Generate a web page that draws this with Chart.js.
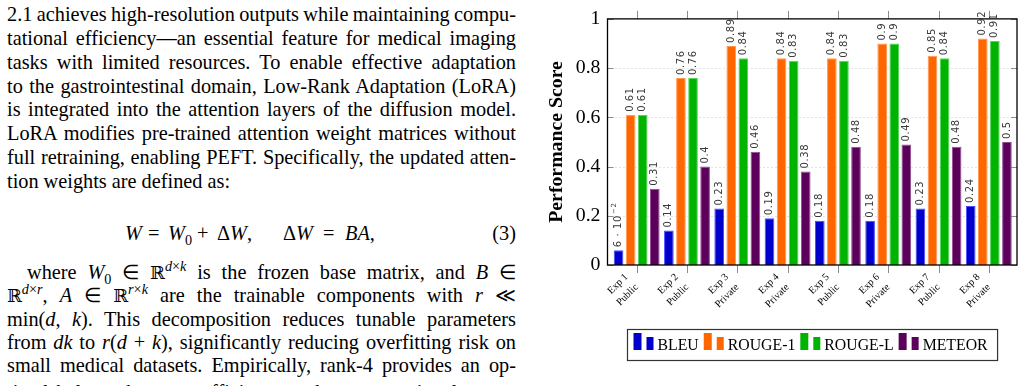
<!DOCTYPE html>
<html>
<head>
<meta charset="utf-8">
<script src="https://cdn.jsdelivr.net/npm/chart.js@4.4.0/dist/chart.umd.min.js"></script>
<style>
html, body { margin: 0; padding: 0; background: #fff; width: 1025px; height: 386px; overflow: hidden; }
#text { position: absolute; left: 7px; top: 0; width: 509px; height: 386px; overflow: hidden;
        font-family: 'Liberation Serif', 'Times New Roman', serif; font-size: 20.3px; color: #000; }
.ln { position: absolute; left: 0; width: 509px; height: 23.3px; line-height: 23.3px; word-spacing: -2px;
      text-align: justify; text-align-last: justify; white-space: nowrap; }
.ln.last { text-align: left; text-align-last: left; word-spacing: 0; }
.eq { position: absolute; top: 221.5px; height: 23.3px; line-height: 23.3px; white-space: nowrap; }
sub, sup { font-size: 0.7em; line-height: 0; }
.bb { font-family: 'DejaVu Serif', serif; font-size: 0.88em; }
#chartBox { position: absolute; left: 530px; top: 0; width: 495px; height: 386px; }
</style>
</head>
<body>

<div id="text">
  <div class="ln" style="top:3.2px">2.1 achieves high-resolution outputs while maintaining compu-</div>
  <div class="ln" style="top:27px">tational efficiency—an essential feature for medical imaging</div>
  <div class="ln" style="top:50.8px">tasks with limited resources. To enable effective adaptation</div>
  <div class="ln" style="top:74.6px">to the gastrointestinal domain, Low-Rank Adaptation (LoRA)</div>
  <div class="ln" style="top:98.4px">is integrated into the attention layers of the diffusion model.</div>
  <div class="ln" style="top:122.2px">LoRA modifies pre-trained attention weight matrices without</div>
  <div class="ln" style="top:146px">full retraining, enabling PEFT. Specifically, the updated atten-</div>
  <div class="ln last" style="top:169.8px">tion weights are defined as:</div>

  <span class="eq" style="left:118px"><i>W</i></span>
  <span class="eq" style="left:141px">=</span>
  <span class="eq" style="left:161px"><i>W</i><sub>0</sub></span>
  <span class="eq" style="left:190px">+</span>
  <span class="eq" style="left:210px">Δ<i>W</i>,</span>
  <span class="eq" style="left:276px">Δ<i>W</i></span>
  <span class="eq" style="left:316px">=</span>
  <span class="eq" style="left:338px"><i>BA</i>,</span>
  <span class="eq" style="right:0">(3)</span>

  <div class="ln" style="top:261px; text-indent:20px">where <i>W</i><sub>0</sub> ∈ <span class="bb">ℝ</span><sup><i>d</i>×<i>k</i></sup> is the frozen base matrix, and <i>B</i> ∈</div>
  <div class="ln" style="top:284.3px"><span class="bb">ℝ</span><sup><i>d</i>×<i>r</i></sup>, <i>A</i> ∈ <span class="bb">ℝ</span><sup><i>r</i>×<i>k</i></sup> are the trainable components with <i>r</i> ≪</div>
  <div class="ln" style="top:307.6px">min(<i>d</i>, <i>k</i>). This decomposition reduces tunable parameters</div>
  <div class="ln" style="top:331px">from <i>dk</i> to <i>r</i>(<i>d</i> + <i>k</i>), significantly reducing overfitting risk on</div>
  <div class="ln" style="top:354.3px">small medical datasets. Empirically, rank-4 provides an op-</div>
  <div class="ln" style="top:380.5px">timal balance between efficiency and representational power</div>
</div>

<div id="chartBox"><canvas id="perfChart" width="495" height="386"></canvas></div>

<script>
// ============================================
// DATA
// ============================================
const experiments = ['Exp 1', 'Exp 2', 'Exp 3', 'Exp 4', 'Exp 5', 'Exp 6', 'Exp 7', 'Exp 8'];
const dataSources = ['Public', 'Public', 'Private', 'Private', 'Public', 'Private', 'Public', 'Private'];

const bleu   = [0.06, 0.14, 0.23, 0.19, 0.18, 0.18, 0.23, 0.24];
const rouge1 = [0.61, 0.76, 0.89, 0.84, 0.84, 0.90, 0.85, 0.92];
const rougeL = [0.61, 0.76, 0.84, 0.83, 0.83, 0.90, 0.84, 0.91];
const meteor = [0.31, 0.40, 0.46, 0.38, 0.48, 0.49, 0.48, 0.50];

const yTicks      = [0, 0.2, 0.4, 0.6, 0.8, 1];
const yTickLabels = ['0', '0.2', '0.4', '0.6', '0.8', '1'];

const SERIF = "'Liberation Serif', 'Times New Roman', serif";

// build {x, y} points so the bars sit on a linear x axis (1..8)
function toPoints(values) {
    return values.map((v, i) => ({ x: i + 1, y: v }));
}

// pgfplots style value label: small values as "6 · 10^-2"
function drawValueLabel(ctx, v) {
    if (v < 0.1) {
        const exp = Math.floor(Math.log10(v));
        const mant = Math.round(v / Math.pow(10, exp));
        const base = mant + ' · 10';
        ctx.fillText(base, 0, 0);
        const w = ctx.measureText(base).width;
        ctx.font = '7px "DejaVu Sans"';
        ctx.fillText('−' + Math.abs(exp), w + 1, -4);
    } else {
        ctx.fillText(String(v), 0, 0);
    }
}

// ============================================
// CUSTOM DRAWING - grid, frame, labels, legend
// ============================================
const framePlugin = {
    id: 'pgfFrame',
    beforeDatasetsDraw(chart) {
        const { ctx, chartArea: a, scales: { x, y } } = chart;
        ctx.save();

        // dotted horizontal grid
        ctx.strokeStyle = '#b8b8b8';
        ctx.lineWidth = 0.8;
        ctx.setLineDash([1, 3]);
        yTicks.forEach(v => {
            if (v <= 0 || v >= 1) return;
            const py = Math.round(y.getPixelForValue(v)) + 0.5;
            ctx.beginPath(); ctx.moveTo(a.left, py); ctx.lineTo(a.right, py); ctx.stroke();
        });
        ctx.setLineDash([]);

        // y ticks (inside, both sides)
        ctx.strokeStyle = '#8c8c8c';
        ctx.lineWidth = 1;
        yTicks.forEach(v => {
            const py = Math.round(y.getPixelForValue(v)) + 0.5;
            ctx.beginPath();
            ctx.moveTo(a.left, py); ctx.lineTo(a.left + 6, py);
            ctx.moveTo(a.right - 6, py); ctx.lineTo(a.right, py);
            ctx.stroke();
        });

        // x ticks (outside, top and bottom)
        experiments.forEach((e, i) => {
            const px = Math.round(x.getPixelForValue(i + 1)) + 0.5;
            ctx.beginPath();
            ctx.moveTo(px, a.top - 8); ctx.lineTo(px, a.top);
            ctx.moveTo(px, a.bottom); ctx.lineTo(px, a.bottom + 8);
            ctx.stroke();
        });
        ctx.restore();
    },
    afterDatasetsDraw(chart) {
        const { ctx, chartArea: a, scales: { x } } = chart;
        ctx.save();

        // axis frame
        ctx.strokeStyle = '#000';
        ctx.lineWidth = 1.3;
        ctx.strokeRect(a.left, a.top, a.right - a.left, a.bottom - a.top);

        // value labels above each bar (rotated)
        chart.data.datasets.forEach((ds, di) => {
            const meta = chart.getDatasetMeta(di);
            meta.data.forEach((bar, i) => {
                ctx.save();
                ctx.translate(bar.x, bar.y - 3);
                ctx.rotate(-Math.PI / 2);
                ctx.font = '10px "DejaVu Sans"';
                ctx.letterSpacing = '0.6px';
                ctx.fillStyle = '#3a3a3a';
                ctx.textAlign = 'left';
                ctx.textBaseline = 'middle';
                drawValueLabel(ctx, ds.data[i].y);
                ctx.restore();
            });
        });

        // x tick labels, two lines rotated 45 degrees
        experiments.forEach((e, i) => {
            const px = x.getPixelForValue(i + 1);
            ctx.save();
            ctx.translate(px, a.bottom + 8);
            ctx.rotate(-Math.PI / 4);
            ctx.font = '10.2px ' + SERIF;
            ctx.fillStyle = '#000';
            ctx.textAlign = 'right';
            ctx.textBaseline = 'middle';
            ctx.fillText(e, -9, -5.5);
            ctx.fillText(dataSources[i], -9, 9);
            ctx.restore();
        });

        // legend box below the plot
        ctx.font = '15.8px ' + SERIF;
        const items = chart.data.datasets.map(ds => ({
            text: ds.label, color: ds.backgroundColor, w: ctx.measureText(ds.label).width
        }));
        const entryW = it => 8 + 5 + 7 + 4 + it.w + 5;
        const total = 6 + items.reduce((s, it) => s + entryW(it), 0) + 5;
        const cx = (a.left + a.right) / 2;
        const boxL = Math.round(cx - total / 2) + 0.5;
        const boxT = 329.5, boxH = 31;
        ctx.strokeStyle = '#333';
        ctx.lineWidth = 1.2;
        ctx.strokeRect(boxL, boxT, total, boxH);

        let lx = boxL + 6;
        const base = 350;
        items.forEach(it => {
            ctx.fillStyle = it.color;
            ctx.fillRect(lx, base - 17, 8, 17);
            ctx.fillRect(lx + 13, base - 13, 7, 13);
            ctx.fillStyle = '#000';
            ctx.textAlign = 'left';
            ctx.textBaseline = 'alphabetic';
            ctx.fillText(it.text, lx + 24, base);
            lx += entryW(it);
        });
        ctx.restore();
    }
};

// ============================================
// CHART
// ============================================
const ctx = document.getElementById('perfChart').getContext('2d');

const perfChart = new Chart(ctx, {
    type: 'bar',
    data: {
        datasets: [
            { label: 'BLEU',    data: toPoints(bleu),   backgroundColor: '#0000cc', borderColor: '#4d4dff', borderWidth: 1 },
            { label: 'ROUGE-1', data: toPoints(rouge1), backgroundColor: '#ff6600', borderColor: '#ff9a55', borderWidth: 1 },
            { label: 'ROUGE-L', data: toPoints(rougeL), backgroundColor: '#00b300', borderColor: '#55d455', borderWidth: 1 },
            { label: 'METEOR',  data: toPoints(meteor), backgroundColor: '#5c005c', borderColor: '#8f4d8f', borderWidth: 1 }
        ]
    },
    options: {
        responsive: false,
        animation: false,
        devicePixelRatio: 1,
        categoryPercentage: 0.96,
        barPercentage: 0.8,
        layout: { padding: { top: 15, right: 8, left: 0, bottom: 0 } },
        plugins: {
            legend: { display: false },
            tooltip: { enabled: false }
        },
        scales: {
            x: {
                type: 'linear',
                min: 0.42,
                max: 8.56,
                offset: false,
                grid: { display: false, drawTicks: false },
                border: { display: false },
                ticks: { display: false },
                afterFit(scale) { scale.height = 121; }
            },
            y: {
                min: 0,
                max: 1,
                grid: { display: false, drawTicks: false },
                border: { display: false },
                afterBuildTicks(scale) { scale.ticks = yTicks.map(v => ({ value: v })); },
                ticks: {
                    padding: 7,
                    color: '#000',
                    font: { family: SERIF, size: 19.8 },
                    callback: (value, index) => yTickLabels[index]
                },
                title: {
                    display: true,
                    text: 'Performance Score',
                    color: '#000',
                    font: { family: SERIF, size: 19.8, weight: 'bold' },
                    padding: { top: 15, bottom: 0 }
                },
                afterFit(scale) { scale.width = 77.5; }
            }
        }
    },
    plugins: [framePlugin]
});
</script>
</body>
</html>
